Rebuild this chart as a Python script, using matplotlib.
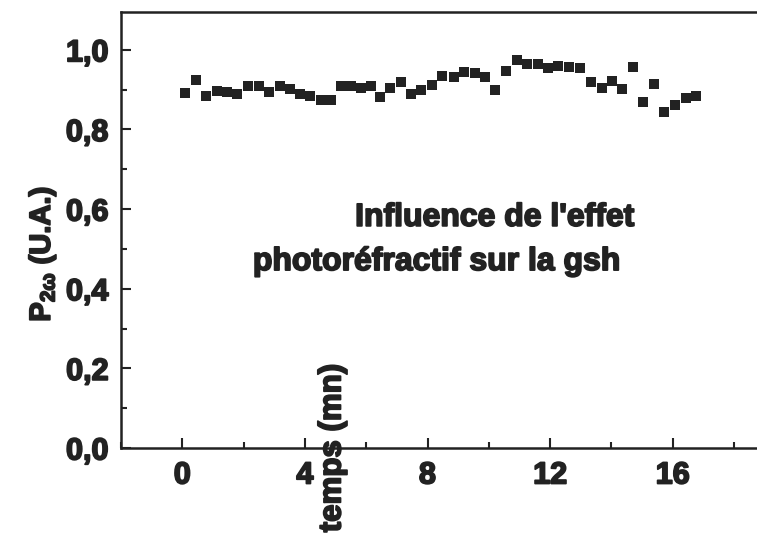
import matplotlib
matplotlib.use('Agg')
import matplotlib.pyplot as plt
import matplotlib.patheffects as pe
from matplotlib.ticker import MultipleLocator, FuncFormatter

plt.rcParams['font.family'] = ['Liberation Sans', 'DejaVu Sans']
plt.rcParams['font.weight'] = 'bold'
plt.rcParams['mathtext.fontset'] = 'custom'
plt.rcParams['mathtext.rm'] = 'Liberation Sans:bold'
plt.rcParams['mathtext.bf'] = 'Liberation Sans:bold'
plt.rcParams['mathtext.it'] = 'Liberation Sans:bold'
plt.rcParams['mathtext.default'] = 'bf'

# temps (mn) et puissance SH normalisee
temps = [0.10, 0.45, 0.78, 1.14, 1.46, 1.79, 2.14, 2.50, 2.83, 3.19,
         3.50, 3.84, 4.17, 4.52, 4.84, 5.17, 5.50, 5.82, 6.15, 6.45,
         6.78, 7.13, 7.46, 7.78, 8.14, 8.47, 8.85, 9.20, 9.55, 9.88,
         10.21, 10.56, 10.91, 11.25, 11.60, 11.94, 12.27, 12.62, 12.96, 13.34,
         13.69, 14.01, 14.35, 14.70, 15.03, 15.38, 15.71, 16.06, 16.42, 16.75]
p2w = [0.891, 0.925, 0.883, 0.897, 0.895, 0.889, 0.910, 0.910, 0.895, 0.910,
       0.902, 0.889, 0.883, 0.874, 0.874, 0.910, 0.910, 0.905, 0.908, 0.881,
       0.904, 0.920, 0.889, 0.899, 0.912, 0.935, 0.931, 0.945, 0.941, 0.931,
       0.899, 0.948, 0.975, 0.965, 0.965, 0.954, 0.960, 0.957, 0.954, 0.920,
       0.904, 0.922, 0.901, 0.958, 0.868, 0.914, 0.845, 0.862, 0.880, 0.883]

x_ticks = [0, 4, 8, 12, 16]
y_ticks = [0.0, 0.2, 0.4, 0.6, 0.8, 1.0]

ink = '#222222'
heavy = [pe.withStroke(linewidth=1.3, foreground=ink)]

fig = plt.figure(figsize=(7.57, 5.39), dpi=100)
ax = fig.add_axes([121 / 757, 1 - 448 / 539, 1 - 121 / 757, (448 - 12) / 539])

ax.plot(temps, p2w, 's', color=ink, markersize=7, markeredgewidth=0)

ax.set_xlim(-2, 18.75)
ax.set_ylim(0, 1.095)
ax.set_xticks(x_ticks)
ax.set_yticks(y_ticks)
ax.xaxis.set_minor_locator(MultipleLocator(2))
ax.yaxis.set_minor_locator(MultipleLocator(0.1))
ax.yaxis.set_major_formatter(FuncFormatter(lambda v, _: f'{v:.1f}'.replace('.', ',')))

for s in ['left', 'bottom', 'top']:
    ax.spines[s].set_linewidth(1.8)
    ax.spines[s].set_color(ink)
ax.spines['right'].set_visible(False)

ax.tick_params(which='both', direction='in', color=ink, width=1.5,
               labelsize=22, labelcolor=ink, top=False, right=False)
ax.tick_params(which='major', length=7)
ax.tick_params(which='minor', length=4)
ax.tick_params(axis='x', which='major', pad=9)
ax.tick_params(axis='y', which='major', pad=9)

for lab in ax.get_xticklabels() + ax.get_yticklabels():
    lab.set_path_effects(heavy)

# titre des axes
fig.text(42 / 757, 1 - 254 / 539, r'P$_{2\omega}$ (U.A.)', rotation=90,
         ha='center', va='center', fontsize=21, fontweight='bold', color=ink,
         path_effects=heavy)
ax.text(4.9, 0.0, 'temps (mn)', rotation=90, ha='center', va='center',
        fontsize=22.5, fontweight='bold', color=ink, path_effects=heavy)

# legende du graphe
ax.text(10.2, 0.578, "Influence de l'effet", ha='center', va='center',
        fontsize=23, fontweight='bold', color=ink, path_effects=heavy)
ax.text(8.3, 0.467, 'photoréfractif sur la gsh', ha='center', va='center',
        fontsize=23, fontweight='bold', color=ink, path_effects=heavy)

fig.savefig('out.png', dpi=100)
